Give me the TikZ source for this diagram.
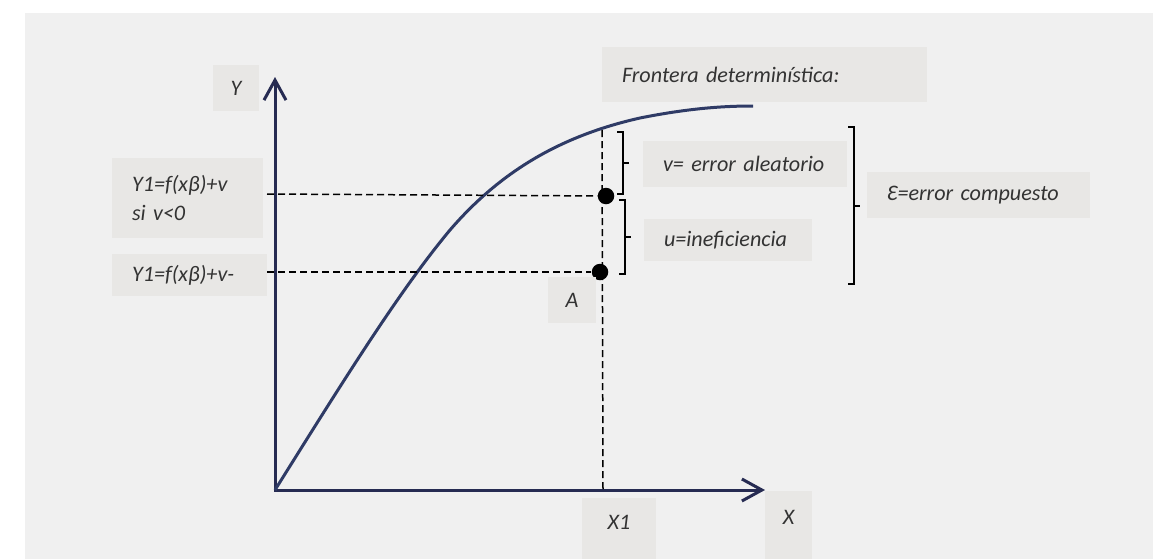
\documentclass[tikz,border=0pt]{standalone}
\usepackage{fontspec}
\setmainfont{Carlito}
\usetikzlibrary{arrows.meta}
\definecolor{panelGray}{HTML}{F0F0F0}
\definecolor{tagGray}{HTML}{E8E7E5}
\definecolor{inkDark}{HTML}{333333}
\definecolor{axisNavy}{HTML}{262B52}
\definecolor{curveNavy}{HTML}{2F3B66}
\tikzset{
  every node/.style={font=\fontsize{12.6}{16}\selectfont\itshape, text=inkDark},
  tag/.style={fill=tagGray, inner xsep=4mm, inner ysep=0pt, align=left},
  tagc/.style={fill=tagGray, inner sep=0pt, align=center},
  axis/.style={draw=axisNavy, line width=0.6mm, line join=miter,
               {Straight Barb[length=4mm, width=4.4mm]}-{Straight Barb[length=4mm, width=4.4mm]}},
  frontier/.style={draw=curveNavy, line width=0.6mm},
  guide/.style={draw=black, line width=0.3mm, dash pattern=on 1.4mm off 0.8mm},
  point/.style={circle, fill=black, inner sep=0pt, minimum size=3.3mm},
  bracket/.style={draw=black, line width=0.4mm},
}
% a square bracket opening to the left, with its tick in the middle
\newcommand{\errBrace}[3]{%
  \draw[bracket] (#1-6,#2) -- (#1,#2) -- (#1,#3) -- (#1-6,#3);
  \draw[bracket] (#1,{(#2+#3)/2}) -- (#1+6,{(#2+#3)/2});}

\begin{document}
\begin{tikzpicture}[x=0.2mm, y=-0.2mm]
\useasboundingbox (0,0) rectangle (1153,559);
\fill[panelGray] (25,13) rectangle (1153,559);

% ------------------------------------------------------------ the axes
\coordinate (origin) at (275,490);
\coordinate (yTip) at (275,77);
\coordinate (xTip) at (765,490);
\draw[axis] (yTip) -- (origin) -- (xTip);
\node[tagc, minimum width=9.2mm, minimum height=9.2mm] (lblY) at (236,88) {Y};
\node[tagc, minimum width=9.4mm, minimum height=13.6mm, text depth=3.2mm]
  (lblX) at (788.5,525) {X};

% ------------------------------------------------- the frontier and its label
\draw[frontier] (origin) .. controls (345,378) and (400,290) .. (450,230)
  .. controls (500,172) and (560,136) .. (640,118)
  .. controls (690,108) and (725,106) .. (753,106);
\node[tag, text width=57mm, minimum height=11mm] (frontera) at (764.5,74.5)
  {Frontera determinística:};

% ---------------------------------------------------- the observed points
\node[point] (dotV) at (606,196) {};
\node[point] (dotU) at (600,272) {};
\coordinate (yV) at (267,194);
\coordinate (yU) at (267,272);
\coordinate (topX1) at (602,130);
\coordinate (footX1) at (603,490);
\draw[guide] (topX1) -- (footX1);
\draw[guide] (yV) -- (dotV);
\draw[guide] (yU) -- (dotU);

\node[tag, text width=22.2mm, minimum height=16mm] (lblY1v) at (187.5,198)
  {Y1=f(xβ)+v\\si v<0};
\node[tag, text width=23mm, minimum height=8.4mm] (lblY1u) at (189.5,275)
  {Y1=f(xβ)+v-};
\node[tagc, minimum width=9.6mm, minimum height=9.2mm] (lblA) at (572,300) {A};
\node[tagc, minimum width=14.8mm, minimum height=12.2mm, text depth=2.4mm]
  (lblX1) at (619,528.5) {X1};

% ------------------------------------------------------ the error terms
\errBrace{623}{132}{194}
\errBrace{625}{200}{274}
\errBrace{854}{127}{284}
\node[tag, text width=32.8mm, minimum height=9.2mm] (errV) at (745,164)
  {v= error aleatorio};
\node[tag, text width=25.6mm, minimum height=8.4mm] (errU) at (728,240)
  {u=ineficiencia};
\node[tag, text width=36.6mm, minimum height=9.2mm] (errE) at (978.5,195)
  {Ɛ=error compuesto};

\end{tikzpicture}
\end{document}
